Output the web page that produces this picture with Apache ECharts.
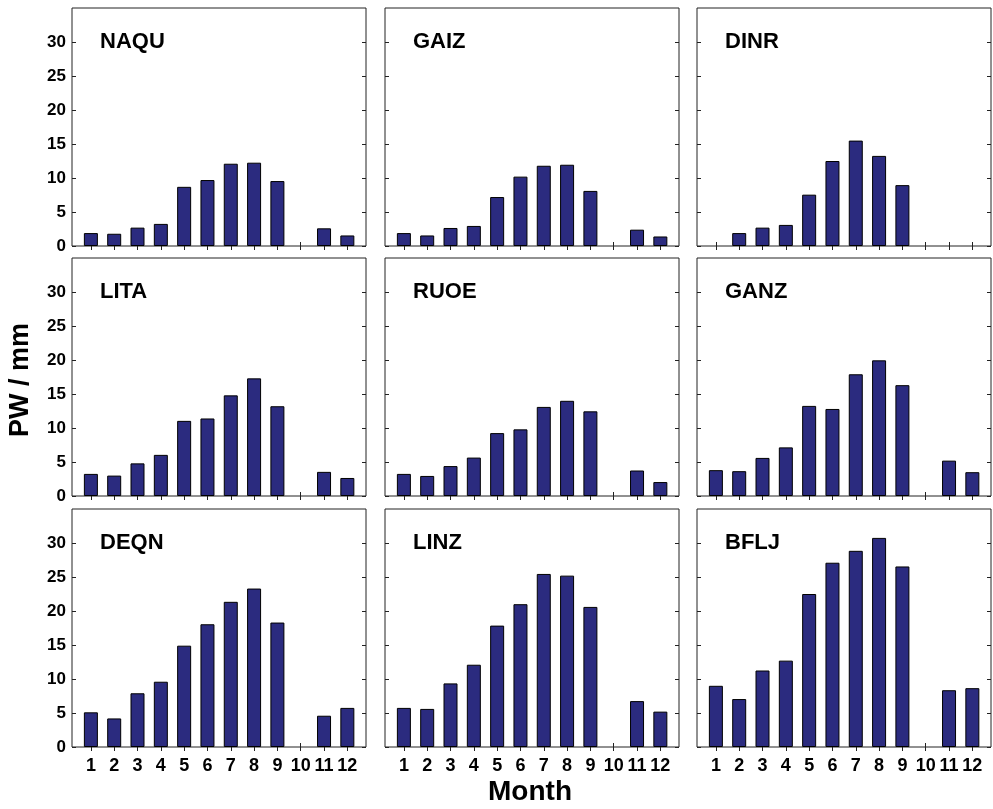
<!DOCTYPE html>
<html>
<head>
<meta charset="utf-8">
<script src="https://cdn.jsdelivr.net/npm/echarts@6/dist/echarts.min.js"></script>
<style>
html,body{margin:0;padding:0;background:#fff;}
#chart{width:993px;height:809px;}
</style>
</head>
<body>
<div id="chart"></div>
<script>
// ---- data ----
const months = [1, 2, 3, 4, 5, 6, 7, 8, 9, 10, 11, 12];
const yTicks = [0, 5, 10, 15, 20, 25, 30];
const stations = ['NAQU', 'GAIZ', 'DINR', 'LITA', 'RUOE', 'GANZ', 'DEQN', 'LINZ', 'BFLJ'];
const NAQU = [1.9, 1.8, 2.7, 3.25, 8.7, 9.7, 12.1, 12.25, 9.55, null, 2.6, 1.55];
const GAIZ = [1.9, 1.55, 2.65, 2.95, 7.2, 10.2, 11.8, 11.95, 8.1, null, 2.4, 1.4];
const DINR = [null, 1.9, 2.7, 3.1, 7.55, 12.5, 15.5, 13.25, 8.95, null, null, null];
const LITA = [3.25, 3.0, 4.8, 6.05, 11.05, 11.4, 14.8, 17.3, 13.2, null, 3.55, 2.65];
const RUOE = [3.25, 2.95, 4.4, 5.65, 9.25, 9.8, 13.1, 14.0, 12.45, null, 3.75, 2.05];
const GANZ = [3.8, 3.65, 5.6, 7.15, 13.25, 12.8, 17.9, 19.95, 16.3, null, 5.2, 3.5];
const DEQN = [5.1, 4.2, 7.9, 9.6, 14.9, 18.05, 21.35, 23.3, 18.3, null, 4.6, 5.75];
const LINZ = [5.75, 5.6, 9.35, 12.1, 17.85, 21.0, 25.45, 25.2, 20.6, null, 6.75, 5.2];
const BFLJ = [9.0, 7.05, 11.25, 12.7, 22.5, 27.1, 28.85, 30.75, 26.55, null, 8.35, 8.65];
const seriesValues = [NAQU, GAIZ, DINR, LITA, RUOE, GANZ, DEQN, LINZ, BFLJ];

// ---- layout ----
const colLeft = [72, 385, 697];
const rowTop = [8, 258, 509];
const panelW = 294, panelH = 238;
const FONT = '"Liberation Sans", Arial, sans-serif';
const BAR = '#2b2b7f';

const grids = [], xAxes = [], yAxes = [], series = [], graphics = [];
stations.forEach((name, i) => {
  const r = Math.floor(i / 3), c = i % 3;
  grids.push({
    left: colLeft[c], top: rowTop[r], width: panelW, height: panelH,
    show: true, borderColor: '#222', borderWidth: 1, backgroundColor: '#fff'
  });
  const xBase = {
    type: 'value', gridIndex: i, min: 0.19, max: 12.8,
    splitLine: { show: false }, axisLine: { show: false },
    axisTick: { show: true, inside: true, length: 4, customValues: months, lineStyle: { color: '#222' } }
  };
  xAxes.push(Object.assign({}, xBase, {
    position: 'bottom',
    axisLabel: {
      show: r === 2, customValues: months, margin: 10,
      color: '#000', fontWeight: 'bold', fontSize: 18, fontFamily: FONT
    }
  }));
  xAxes.push(Object.assign({}, xBase, { position: 'top', axisLabel: { show: false } }));
  const yBase = {
    type: 'value', gridIndex: i, min: 0, max: 35,
    splitLine: { show: false }, axisLine: { show: false },
    axisTick: { show: true, inside: true, length: 4, customValues: yTicks, lineStyle: { color: '#222' } }
  };
  yAxes.push(Object.assign({}, yBase, {
    position: 'left',
    axisLabel: {
      show: c === 0, customValues: yTicks, margin: 6,
      color: '#000', fontWeight: 'bold', fontSize: 17, fontFamily: FONT
    }
  }));
  yAxes.push(Object.assign({}, yBase, { position: 'right', axisLabel: { show: false } }));
  const vals = seriesValues[i];
  series.push({
    type: 'bar', name: name,
    xAxisIndex: 2 * i, yAxisIndex: 2 * i,
    barWidth: 14,
    itemStyle: { color: BAR, borderColor: '#000', borderWidth: 1 },
    data: months.map((m, k) => [m, vals[k]]).filter(d => d[1] !== null),
    silent: true, animation: false
  });
  graphics.push({
    type: 'text', left: colLeft[c] + 28, top: rowTop[r] + 23,
    style: { text: name, fill: '#000', font: 'bold 22px ' + FONT }
  });
});

graphics.push({
  type: 'text', x: 530, y: 792,
  style: { text: 'Month', fill: '#000', font: 'bold 28px ' + FONT, align: 'center', verticalAlign: 'middle' }
});
graphics.push({
  type: 'text', x: 21, y: 380, rotation: Math.PI / 2,
  style: { text: 'PW / mm', fill: '#000', font: 'bold 27px ' + FONT, align: 'center', verticalAlign: 'middle' }
});

const chart = echarts.init(document.getElementById('chart'), null, { renderer: 'canvas' });
chart.setOption({
  animation: false,
  backgroundColor: '#fff',
  grid: grids,
  xAxis: xAxes,
  yAxis: yAxes,
  series: series,
  graphic: graphics
});
</script>
</body>
</html>
